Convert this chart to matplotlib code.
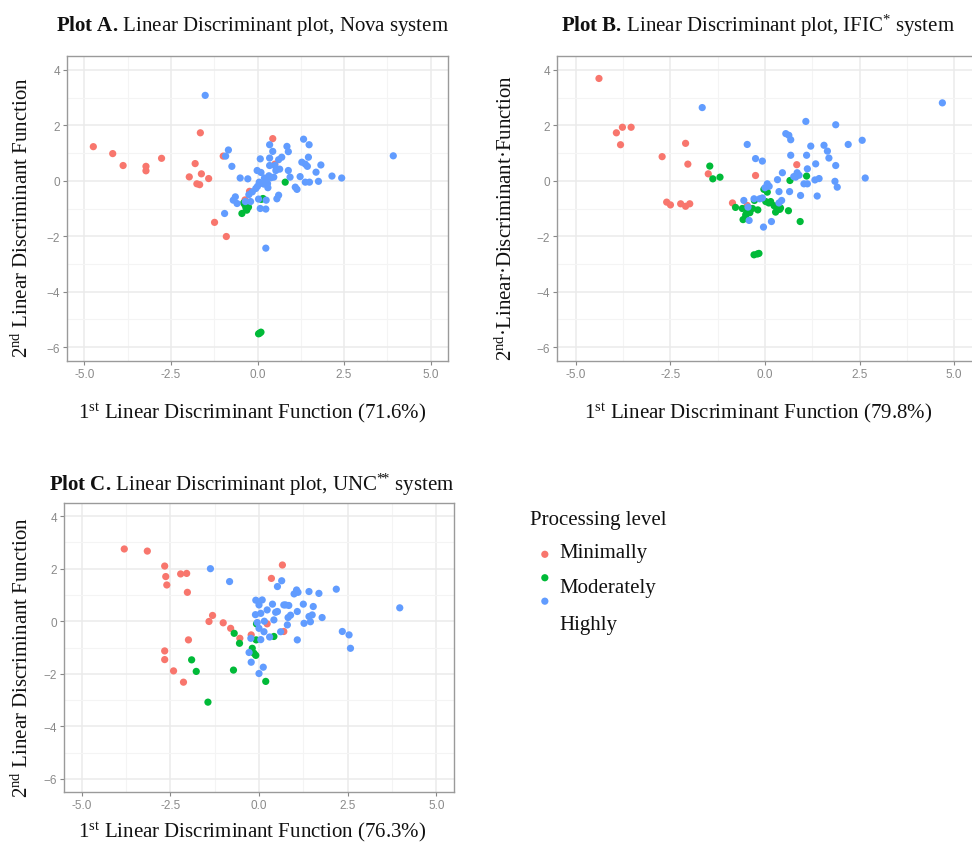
import matplotlib
matplotlib.use("Agg")
import matplotlib.pyplot as plt
import numpy as np

plt.rcParams['mathtext.fontset'] = 'custom'
plt.rcParams['mathtext.rm'] = 'Liberation Serif'
plt.rcParams['mathtext.bf'] = 'Liberation Serif:bold'
plt.rcParams['mathtext.it'] = 'Liberation Serif:italic'

levels = ["Minimally", "Moderately", "Highly"]
colors = ["#F8766D", "#00BA38", "#619CFF"]

# ---- Plot A, Nova system
a_min_x = [-4.74, -4.18, -3.88, -3.22, -3.22, -2.77, -1.80, -1.97, -1.75, -1.67, -1.62, -1.41,
           -1.65, -0.99, -1.24, -0.90, -0.23, -0.36, 0.44, 0.50]
a_min_y = [1.23, 0.98, 0.55, 0.52, 0.36, 0.81, 0.62, 0.14, -0.11, -0.14, 0.25, 0.08,
           1.73, 0.89, -1.50, -2.01, -0.38, -0.69, 1.52, 0.60]
a_mod_x = [-0.36, -0.45, -0.31, -0.26, -0.40, 0.11, 0.16, 0.80, 0.03, 0.10, 0.06, -0.33]
a_mod_y = [-0.88, -1.18, -1.06, -0.95, -0.80, -0.67, -0.64, -0.05, -5.52, -5.46, -5.50, -1.00]
a_hi_x = [-1.51, -0.84, -0.92, -0.74, -0.50, -0.28, -0.64, -0.59, -0.95, 0.24, 0.35, 0.44,
          0.35, 0.08, -0.01, 0.85, 0.89, 0.61, 0.70, 1.33, 1.49, 1.28, 1.38, 1.47, 1.44,
          1.83, 1.69, 2.15, 2.43, 3.92, 1.23, 1.09, 1.14, 1.38, 1.50, 1.76, 0.89, 0.64,
          0.94, 0.53, 0.47, 0.33, 0.24, 0.19, 0.29, 0.39, 0.05, -0.05, -0.15, -0.25, 0.03,
          0.08, 0.24, 0.61, 0.56, 0.15, 0.20, 0.10, 0.35, 0.50, -0.35, -0.20, 0.25, 0.00,
          0.30, -0.70]
a_hi_y = [3.08, 1.11, 0.89, 0.52, 0.10, 0.07, -0.58, -0.82, -1.18, -2.43, 1.30, 1.06,
          0.82, 0.79, 0.37, 1.24, 1.05, 0.76, 0.85, 1.50, 1.30, 0.67, 0.60, 0.85, 0.52,
          0.57, 0.31, 0.17, 0.10, 0.90, 0.15, -0.23, -0.31, -0.05, -0.05, -0.02, 0.37, 0.42,
          0.13, 0.37, 0.13, 0.18, 0.00, -0.12, -0.10, 0.11, -0.05, -0.28, -0.40, -0.50, -0.66,
          -1.00, -1.02, -0.52, -0.65, -0.10, 0.10, 0.30, 0.55, 0.55, -0.75, -0.75, -0.70, -0.20,
          -0.25, -0.70]

# ---- Plot B, IFIC system
b_min_x = [-4.39, -3.93, -3.77, -3.54, -3.82, -2.72, -2.10, -2.04, -2.60, -2.50, -2.23, -2.10,
           -1.99, -1.50, -0.86, -0.47, -0.25, 0.84]
b_min_y = [3.69, 1.73, 1.93, 1.93, 1.30, 0.87, 1.35, 0.60, -0.77, -0.87, -0.83, -0.92,
           -0.83, 0.25, -0.80, -0.89, 0.19, 0.58]
b_mod_x = [-1.46, -1.38, -1.19, -0.78, -0.60, -0.58, -0.51, -0.45, -0.33, -0.19, -0.28, -0.03,
           0.06, 0.02, 0.15, 0.24, 0.28, 0.39, 0.41, 0.62, 0.66, 0.93, 1.10, -0.29, -0.20,
           -0.16, -0.50, -0.40, 0.10, 0.33]
b_mod_y = [0.53, 0.07, 0.13, -0.96, -1.00, -1.40, -1.25, -1.05, -1.00, -1.05, -0.71, -0.31,
           -0.41, -0.75, -0.75, -0.90, -1.13, -1.03, -0.98, -1.08, 0.01, -1.47, 0.17, -2.67,
           -2.64, -2.62, -1.20, -1.15, -0.80, -1.05]
b_hi_x = [-1.66, -0.47, -0.25, -0.07, -0.56, -0.42, -0.04, 0.17, -0.29, -0.14, -0.07, 0.06,
          0.11, 0.33, 0.37, 0.46, 0.44, 0.37, 0.65, 0.68, 0.55, 0.63, 0.68, 1.08, 0.85,
          0.81, 0.94, 1.03, 1.12, 1.10, 1.12, 1.21, 1.34, 1.32, 1.43, 1.38, 1.56, 1.65,
          1.69, 1.87, 1.87, 1.85, 1.91, 2.20, 2.57, 2.65, 4.69, 0.76, 0.90, -0.45, 0.00]
b_hi_y = [2.64, 1.31, 0.80, 0.71, -0.71, -1.43, -1.67, -1.47, -0.65, -0.65, -0.62, -0.11,
          -0.20, 0.04, -0.39, 0.29, -0.71, -0.80, -0.39, 0.92, 1.70, 1.64, 1.48, 2.14, 0.29,
          0.13, -0.53, -0.11, -0.11, 0.92, 0.43, 1.25, 0.61, 0.03, 0.08, -0.55, 1.28, 1.07,
          0.82, 2.02, 0.55, -0.02, -0.23, 1.31, 1.46, 0.10, 2.81, 0.15, 0.20, -0.95, -0.25]

# ---- Plot C, UNC system
c_min_x = [-3.80, -3.15, -2.66, -2.63, -2.60, -2.21, -2.04, -2.02, -1.99, -2.66, -2.66, -2.41,
           -2.13, -1.41, -1.31, -1.01, -0.80, -0.54, -0.22, 0.23, 0.35, 0.66, 0.70]
c_min_y = [2.75, 2.67, 2.10, 1.70, 1.38, 1.80, 1.82, 1.10, -0.71, -1.13, -1.46, -1.89,
           -2.32, -0.01, 0.22, -0.06, -0.27, -0.65, -0.52, -0.10, 1.63, 2.14, -0.39]
c_mod_x = [-0.70, -0.55, -1.90, -1.77, -0.72, -1.44, -0.19, -0.14, -0.09, -0.08, -0.07, 0.42, 0.19]
c_mod_y = [-0.46, -0.84, -1.47, -1.91, -1.86, -3.08, -1.03, -1.22, -1.30, -0.71, -0.10, -0.58, -2.29]
c_hi_x = [-1.37, -0.83, -0.09, 0.09, 0.00, 0.05, -0.10, -0.05, 0.00, 0.14, -0.23, 0.05,
          -0.28, -0.22, 0.00, 0.12, 0.23, 0.38, 0.42, 0.52, 0.52, 0.64, 0.70, 0.47, 0.61,
          0.75, 0.84, 0.82, 0.89, 0.80, 0.99, 1.06, 1.10, 1.08, 1.08, 1.25, 1.27, 1.41,
          1.41, 1.50, 1.45, 1.53, 1.69, 1.78, 2.18, 2.35, 2.54, 2.58, 3.97, 0.30, 0.15]
c_hi_y = [2.00, 1.51, 0.80, 0.81, 0.62, 0.30, 0.25, -0.05, -0.27, -0.40, -0.65, -0.70,
          -1.19, -1.56, -1.99, -1.75, 0.43, 0.65, 0.05, 0.37, 1.32, 1.54, 0.62, 0.34, -0.40,
          0.62, 0.60, 0.14, 0.23, -0.14, 1.04, 1.19, 1.10, 0.37, -0.71, 0.65, -0.08, 1.13,
          0.18, 0.24, -0.02, 0.56, 1.06, 0.14, 1.22, -0.39, -0.52, -1.03, 0.51, -0.60, 0.00]

panels = [
    (r"$\mathbf{Plot\ A.}\,\mathrm{Linear\ Discriminant\ plot{,}\ Nova\ system}$",
     "1$^{\\mathrm{st}}$ Linear Discriminant Function (71.6%)",
     "2$^{\\mathrm{nd}}$ Linear Discriminant Function",
     [(a_min_x, a_min_y), (a_mod_x, a_mod_y), (a_hi_x, a_hi_y)]),
    (r"$\mathbf{Plot\ B.}\,\mathrm{Linear\ Discriminant\ plot{,}\ IFIC}^{{*}}\ \mathrm{system}$",
     "1$^{\\mathrm{st}}$ Linear Discriminant Function (79.8%)",
     "2$^{\\mathrm{nd}}$\u00b7Linear\u00b7Discriminant\u00b7Function",
     [(b_min_x, b_min_y), (b_mod_x, b_mod_y), (b_hi_x, b_hi_y)]),
    (r"$\mathbf{Plot\ C.}\,\mathrm{Linear\ Discriminant\ plot{,}\ UNC}^{{*}\!{*}}\ \mathrm{system}$",
     "1$^{\\mathrm{st}}$ Linear Discriminant Function (76.3%)",
     "2$^{\\mathrm{nd}}$ Linear Discriminant Function",
     [(c_min_x, c_min_y), (c_mod_x, c_mod_y), (c_hi_x, c_hi_y)]),
]

W, H = 972, 845
fig = plt.figure(figsize=(W / 100, H / 100), dpi=100)

# axes boxes in pixels: left, top, right, bottom
boxes = [(67, 57, 448, 362), (557, 57, 973, 362), (64, 504, 454, 793)]
# title centre, xlabel centre, ylabel centre (pixels)
title_pos = [(252, 26), (758, 26), (252, 485)]
xlab_pos = [(252, 413), (758, 413), (252, 832)]
ylab_pos = [(22, 218), (506, 218), (22, 658)]

serif = "Liberation Serif"
handles = []
for i, (title, xlab, ylab, series) in enumerate(panels):
    l, t, r, b = boxes[i]
    ax = fig.add_axes([l / W, 1 - b / H, (r - l) / W, (b - t) / H])
    for (xs, ys), c, lev in zip(series, colors, levels):
        sc = ax.scatter(xs, ys, s=27, color=c, edgecolors='none', label=lev, zorder=3)
        if i == 0:
            handles.append(sc)
    ax.set_xlim(-5.5, 5.5)
    ax.set_ylim(-6.5, 4.5)
    ax.set_xticks([-5, -2.5, 0, 2.5, 5])
    ax.set_xticklabels(["-5.0", "-2.5", "0.0", "2.5", "5.0"])
    ax.set_yticks([-6, -4, -2, 0, 2, 4])
    ax.set_xticks([-3.75, -1.25, 1.25, 3.75], minor=True)
    ax.set_yticks([-5, -3, -1, 1, 3], minor=True)
    ax.grid(which='major', color='#EBEBEB', linewidth=1.1, zorder=0)
    ax.grid(which='minor', color='#F4F4F4', linewidth=0.8, zorder=0)
    ax.set_axisbelow(True)
    ax.tick_params(which='major', length=3, width=0.8, color='#888888',
                   labelsize=8.5, labelcolor='#8A8A8A', pad=2)
    ax.tick_params(which='minor', length=0)
    for lab in ax.get_xticklabels() + ax.get_yticklabels():
        lab.set_fontfamily("Liberation Sans")
    for sp in ax.spines.values():
        sp.set_color('#9A9A9A')
        sp.set_linewidth(1.0)

    fig.text(title_pos[i][0] / W, 1 - title_pos[i][1] / H, title, ha='center', va='center',
             fontsize=15, family=serif, color='#111111')
    fig.text(xlab_pos[i][0] / W, 1 - xlab_pos[i][1] / H, xlab, ha='center', va='center',
             fontsize=15, family=serif, color='#111111')
    fig.text(ylab_pos[i][0] / W, 1 - ylab_pos[i][1] / H, ylab, ha='center', va='center',
             rotation=90, fontsize=15, family=serif, color='#111111')

# legend (markers and labels sit slightly apart, as in the source)
fig.text(530 / W, 1 - 520 / H, "Processing level", ha='left', va='center',
         fontsize=15, family=serif, color='#111111')
leg = fig.legend(handles, ["", "", ""], loc='upper left',
                 bbox_to_anchor=(524 / W, 1 - 541 / H), frameon=False,
                 handletextpad=0, labelspacing=0.68, markerscale=1.0, borderpad=0)
lab_y = [554, 589, 626]
for lev, y in zip(levels, lab_y):
    fig.text(559 / W, 1 - y / H, lev, ha='left', va='center', fontsize=15,
             family=serif, color='#111111')

plt.savefig("out.png", dpi=100)
